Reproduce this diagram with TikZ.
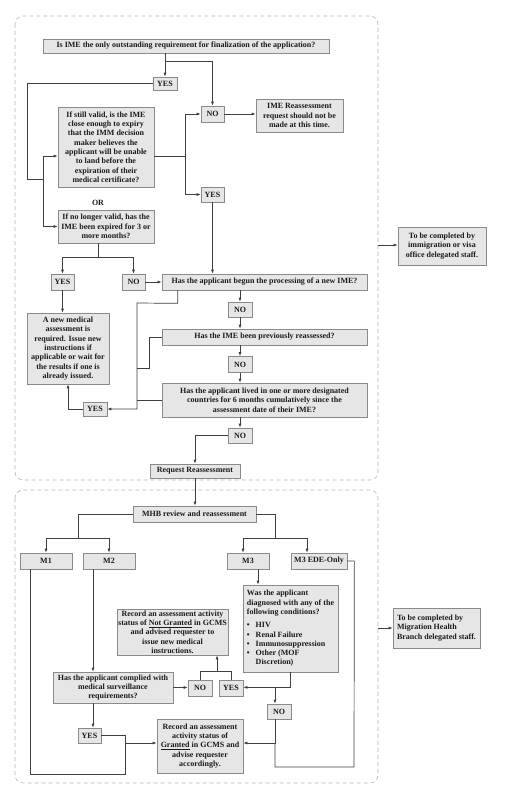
\documentclass[tikz,border=0pt]{standalone}
\usepackage{fontspec}
\setmainfont{Liberation Serif}
\usetikzlibrary{calc,arrows.meta}
\definecolor{boxfill}{HTML}{E6E6E6}
\definecolor{boxline}{HTML}{8A8A8A}
\definecolor{conncol}{HTML}{404040}
\definecolor{dashcol}{HTML}{B4B4B4}
\definecolor{txtcol}{HTML}{1A1A1A}
\newcommand\boxfont{\bfseries\fontsize{8}{9.3}\selectfont}
\begin{document}
\begin{tikzpicture}[x=1pt,y=-1pt,
 box/.style={draw=boxline, fill=boxfill, line width=0.7pt, inner sep=1pt, align=center, font=\boxfont, text=txtcol},
 lbox/.style={box, align=left},
 conn/.style={draw=conncol, line width=0.7pt},
 arr/.style={conn, -{Latex[length=4pt,width=3pt]}},
 container/.style={draw=dashcol, dash pattern=on 4pt off 3pt, rounded corners=8pt, line width=0.6pt}]
\useasboundingbox (0,0) rectangle (531,800);
\fill[white] (0,0) rectangle (531,800);
\draw[container] (15,16) rectangle (378,480);
\draw[container] (15,490) rectangle (378,783);

% ---------- upper section ----------
\node[box, minimum width=286, minimum height=14] (q1) at (186,46) {Is IME the only outstanding requirement for finalization of the application?};
\node[box, minimum width=24, minimum height=13] (yes1) at (165,83.5) {YES};
\node[box, minimum width=23, minimum height=16] (no1) at (212.5,114) {NO};
\node[box, minimum width=87, minimum height=33] (notnow) at (299.5,115.5) {IME Reassessment\\request should not be\\made at this time.};
\node[box, minimum width=96, minimum height=80] (valid) at (106,147) {If still valid, is the IME\\close enough to expiry\\that the IMM decision\\maker believes the\\applicant will be unable\\to land before the\\expiration of their\\medical certificate?};
\node[font=\boxfont, text=txtcol, inner sep=0pt] (or) at (98,203) {OR};
\node[box, minimum width=96, minimum height=33] (expired) at (106,226.5) {If no longer valid, has the\\IME been expired for 3 or\\more months?};
\node[box, minimum width=23, minimum height=15] (yes2) at (212.5,194.5) {YES};
\node[box, minimum width=205, minimum height=16] (begun) at (264.5,282) {Has the applicant begun the processing of a new IME?};
\node[box, minimum width=23, minimum height=16] (yes3) at (62.5,282) {YES};
\node[box, minimum width=23, minimum height=16] (no3) at (133.5,282) {NO};
\node[box, minimum width=82, minimum height=71] (newmed) at (68,348.5) {A new medical\\assessment is\\required. Issue new\\instructions if\\applicable or wait for\\the results if one is\\already issued.};
\node[box, minimum width=24, minimum height=15] (no4) at (240,309.5) {NO};
\node[box, minimum width=205, minimum height=16] (prev) at (264.5,337) {Has the IME been previously reassessed?};
\node[box, minimum width=24, minimum height=16] (no5) at (240,364.5) {NO};
\node[box, minimum width=205, minimum height=34] (lived) at (264.5,400) {Has the applicant lived in one or more designated\\countries for 6 months cumulatively since the\\assessment date of their IME?};
\node[box, minimum width=24, minimum height=14] (yes4) at (95,409) {YES};
\node[box, minimum width=24, minimum height=15] (no6) at (240,435.5) {NO};
\node[box, minimum width=90, minimum height=14] (reqre) at (195,471) {Request Reassessment};
\node[box, minimum width=88, minimum height=38] (imm) at (442,246) {To be completed by\\immigration or visa\\office delegated staff.};

% ---------- lower section ----------
\node[box, minimum width=123, minimum height=16] (mhb) at (194.5,514) {MHB review and reassessment};
\node[box, minimum width=52, minimum height=16] (m1) at (46,561) {M1};
\node[box, minimum width=52, minimum height=16] (m2) at (109,561) {M2};
\node[box, minimum width=42, minimum height=16] (m3) at (248,561) {M3};
\node[box, minimum width=56, minimum height=16] (ede) at (319,561) {M3 EDE-Only};
\node[lbox, minimum width=95, minimum height=87] (was) at (290.5,628.5) {Was the applicant\\diagnosed with any of the\\following conditions?\\[4pt]
\textbullet\hspace{6pt}HIV\\
\textbullet\hspace{6pt}Renal Failure\\
\textbullet\hspace{6pt}Immunosuppression\\
\textbullet\hspace{6pt}Other (MOF\\
\hphantom{\textbullet}\hspace{6pt}Discretion)};
\node[box, minimum width=111, minimum height=46] (notgr) at (172.5,632) {Record an assessment activity\\status of \underline{Not Granted} in GCMS\\and advised requester to\\issue new medical\\instructions.};
\node[box, minimum width=120, minimum height=31] (comp) at (113,687.5) {Has the applicant complied with\\medical surveillance\\requirements?};
\node[box, minimum width=24, minimum height=16] (no7) at (200,688) {NO};
\node[box, minimum width=24, minimum height=16] (yes5) at (231,688) {YES};
\node[box, minimum width=24, minimum height=15] (no8) at (279,711.5) {NO};
\node[box, minimum width=23, minimum height=15] (yes6) at (89.5,735.5) {YES};
\node[box, minimum width=86, minimum height=54] (gr) at (200,746) {Record an assessment\\activity status of\\\underline{Granted} in GCMS and\\advise requester\\accordingly.};
\node[lbox, minimum width=87, minimum height=40] (mig) at (436.5,628) {To be completed by\\Migration Health\\Branch delegated staff.};

% ---------- connectors, upper ----------
\draw[arr] (yes1 |- q1.south) -- (yes1.north);
\coordinate (b1) at ($(yes1 |- q1.south)+(0,8)$);
\draw[arr] (b1) -| (no1.north);
\coordinate (j0) at (27,179);
\coordinate (j1) at (43,179);
\draw[conn] (yes1.west) -| (j0) -- (j1);
\draw[arr] (j1) |- ($(valid.west)+(0,9)$);
\draw[arr] (j1) |- (expired.west);
\coordinate (j2) at ($(valid.east)+(31,9)$);
\draw[conn] ($(valid.east)+(0,9)$) -- (j2);
\draw[arr] (j2) |- (no1.west);
\draw[arr] (j2) |- (yes2.west);
\draw[arr] (no1.east) -- (no1.east -| notnow.west);
\draw[arr] (yes2.south) -- (yes2 |- begun.north);
\coordinate (j3) at ($(expired.south)+(-8,14)$);
\draw[conn] ($(expired.south)+(-8,0)$) -- (j3);
\draw[conn] (yes3 |- j3) -- (no3 |- j3);
\draw[arr] (yes3 |- j3) -- (yes3.north);
\draw[arr] (no3 |- j3) -- (no3.north);
\draw[arr] (no3.east) -- (begun.west);
\draw[arr] (yes3.south) -- (yes3 |- newmed.north);
\draw[arr] (no4 |- begun.south) -- (no4.north);
\draw[arr] (no4.south) -- (no4 |- prev.north);
\draw[arr] (no5 |- prev.south) -- (no5.north);
\draw[arr] (no5.south) -- (no5 |- lived.north);
\draw[arr] (no6 |- lived.south) -- (no6.north);
\draw[arr] (no6.west) -| (reqre.north);
\draw[arr] (reqre.south) -- (reqre |- mhb.north);
% loop to YES
\coordinate (k0) at ($(begun.south west)+(16,0)$);
\coordinate (k1) at ($(begun.south west)+(16,13)$);
\coordinate (k2) at (137,303);
\coordinate (k3) at (149,368);
\draw[arr] (k0) -- (k1) -- (k2) -- (k2 |- yes4) -- (yes4.east);
\draw[conn] (prev.west) -| (k3) -- (k2 |- k3);
\draw[conn] (lived.west) -- (k2 |- lived.west);
\draw[arr] (yes4.west) -| (newmed.south);
\coordinate (c1) at (378,245);
\draw[arr] (c1) -- (c1 -| imm.west);

% ---------- connectors, lower ----------
\coordinate (l1) at (78,538);
\draw[conn] (mhb.west) -| (l1);
\draw[conn] (m1 |- l1) -- (m2 |- l1);
\draw[arr] (m1 |- l1) -- (m1.north);
\draw[arr] (m2 |- l1) -- (m2.north);
\coordinate (r1) at (275,538);
\coordinate (r2) at (243,538);
\coordinate (r3) at (307,538);
\draw[conn] (mhb.east) -| (r1);
\draw[conn] (r2) -- (r3);
\draw[arr] (r2) -- (r2 |- m3.north);
\draw[arr] (r3) -- (r3 |- ede.north);
\coordinate (p1) at (30,774);
\coordinate (p2) at (125,774);
\coordinate (p3) at (125,743);
\draw[conn] (p1 |- m1.south) -- (p1) -- (p2) -- (p3);
\draw[arr] (p3) -- (p3 -| gr.west);
\draw[conn] (yes6.east) -| (p3);
\coordinate (m2x) at ($(m2.south)+(-16,0)$);
\draw[arr] (m2x) -- (m2x |- comp.north);
\draw[arr] (m2x |- comp.south) -- (m2x |- yes6.north);
\draw[arr] (comp.east) -- (comp.east -| no7.west);
\coordinate (t1) at ($(no7.north)+(0,-8)$);
\coordinate (t2) at (t1 -| yes5);
\draw[conn] (no7.north) -- (t1) -- (t2) -- (yes5.north);
\coordinate (t3) at ($(t1)!0.55!(t2)$);
\draw[arr] (t3) -- (t3 |- notgr.south);
\coordinate (m3x) at ($(m3.south)+(10,0)$);
\draw[arr] (m3x) -- (m3x |- was.north);
\coordinate (w1) at ($(was.south)+(0,15)$);
\draw[conn] (was.south) -- (w1);
\draw[arr] (w1) -- (w1 -| yes5.east);
\coordinate (n8x) at ($(no8.north)+(-4,0)$);
\draw[arr] (n8x |- w1) -- (n8x);
\coordinate (g1) at (n8x |- p3);
\draw[arr] (n8x |- no8.south) -- (g1) -- (g1 -| gr.east);
\coordinate (e1) at ($(ede.east)+(7,0)$);
\coordinate (e2) at (354,767);
\draw[conn] (ede.east) -- (e1) -- (e2) -- (e2 -| g1) -- (g1);
\coordinate (c2) at (378,628);
\draw[arr] (c2) -- (c2 -| mig.west);
\end{tikzpicture}
\end{document}
